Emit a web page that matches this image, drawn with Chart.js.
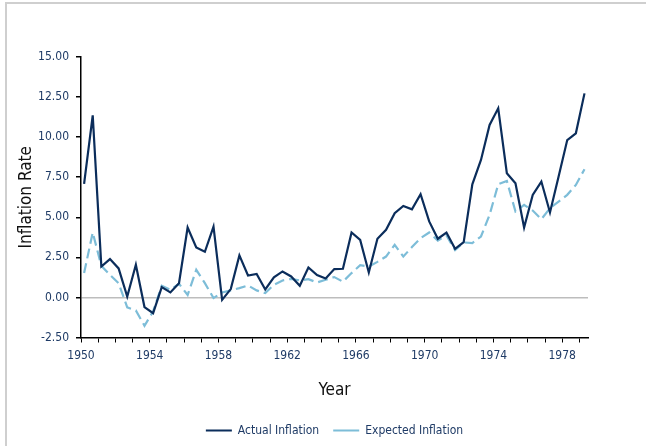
<!DOCTYPE html>
<html>
<head>
<meta charset="utf-8">
<script src="https://cdn.jsdelivr.net/npm/chart.js@4"></script>
<style>
  body { margin: 0; background: #fff; }
  #marco { position: absolute; left: 5px; top: 2px; width: 641px; height: 444px;
           border-top: 2px solid #cfcfcf; border-left: 2px solid #cfcfcf; }
  #miGrafico { position: absolute; left: 0; top: 0; }
</style>
</head>
<body>
<div id="marco"></div>
<canvas id="miGrafico" width="646" height="446"></canvas>
<script>
// Datos semestrales (1950 - 1979)
let inflacionReal = [7.08, 11.36, 1.93, 2.39, 1.81, 0.06, 2.04, -0.60, -0.98, 0.64, 0.31, 0.89, 4.36, 3.12, 2.85, 4.42, -0.15, 0.52, 2.62, 1.37, 1.47, 0.50,
    1.25, 1.62, 1.31, 0.73, 1.87, 1.39, 1.18, 1.77, 1.79, 4.05, 3.59, 1.56, 3.66, 4.22, 5.25, 5.71, 5.50, 6.44, 4.74, 3.66, 4.05, 3.03,
    3.45, 7.06, 8.58, 10.76, 11.80, 7.75, 7.12, 4.36, 6.40, 7.23, 5.30, 7.54, 9.82, 10.24, 12.73];
let inflacionEsperada = [1.52, 4.05, 1.97, 1.41, 0.89, -0.62, -0.81, -1.77, -0.87, 0.73, 0.48, 0.85, 0.15, 1.72, 0.89, -0.04, 0.31, 0.44, 0.58, 0.75, 0.44, 0.27,
    0.79, 1.06, 1.16, 1.06, 1.14, 0.93, 1.10, 1.27, 0.98, 1.52, 2.01, 1.93, 2.22, 2.55, 3.28, 2.55, 3.14, 3.70, 4.05, 3.55, 3.86, 2.95,
    3.43, 3.39, 3.80, 5.15, 7.06, 7.27, 5.36, 5.77, 5.42, 4.88, 5.57, 5.98, 6.40, 7.02, 8.00];
let nombresSeries = ['Actual Inflation', 'Expected Inflation'];
let etiquetasAnios = [1950, 1954, 1958, 1962, 1966, 1970, 1974, 1978];

// Posicion de cada observacion en el eje de anios (dos por anio)
let anios = inflacionReal.map((_, i) => 1950.18 + i * 0.502);

let fuente = "'DejaVu Sans Condensed', 'DejaVu Sans', sans-serif";
let azulTexto = '#1f3b66';

let ctx = document.getElementById('miGrafico').getContext('2d');

let datos = {
    datasets: [{
        label: nombresSeries[0],
        data: anios.map((x, i) => ({ x: x, y: inflacionReal[i] })),
        borderColor: '#0b2d5b',
        backgroundColor: '#0b2d5b',
        borderWidth: 2.2,
        pointRadius: 0,
        tension: 0
    }, {
        label: nombresSeries[1],
        data: anios.map((x, i) => ({ x: x, y: inflacionEsperada[i] })),
        borderColor: '#7dbdd8',
        backgroundColor: '#7dbdd8',
        borderWidth: 2.2,
        borderDash: [10, 5],
        pointRadius: 0,
        tension: 0
    }]
};

let config = {
    type: 'line',
    data: datos,
    options: {
        responsive: false,
        animation: false,
        layout: { padding: { top: 57, right: 58, left: 0, bottom: -0.5 } },
        plugins: {
            tooltip: { enabled: false },
            legend: {
                position: 'bottom',
                fullSize: false,
                labels: {
                    usePointStyle: true,
                    pointStyle: 'line',
                    pointStyleWidth: 26,
                    padding: 14,
                    color: azulTexto,
                    font: { family: fuente, size: 12 }
                }
            }
        },
        scales: {
            x: {
                type: 'linear',
                min: 1950,
                max: 1979.5,
                afterFit: (escala) => { escala.height = 73; },
                border: { display: true, color: '#000', width: 1.5 },
                grid: { color: 'rgba(0,0,0,0)', tickColor: '#000', tickLength: 5, drawTicks: true },
                ticks: {
                    stepSize: 1,
                    autoSkip: false,
                    maxRotation: 0,
                    includeBounds: false,
                    padding: 6,
                    color: azulTexto,
                    font: { family: fuente, size: 12 },
                    callback: (v) => etiquetasAnios.includes(v) ? String(v) : ''
                },
                title: {
                    display: true,
                    text: 'Year',
                    color: '#111',
                    font: { family: fuente, size: 17 },
                    padding: { top: 0, bottom: 10 }
                }
            },
            y: {
                min: -2.5,
                max: 15,
                afterFit: (escala) => { escala.width = 81; },
                border: { display: true, color: '#000', width: 1.5 },
                grid: {
                    color: (c) => c.tick && c.tick.value === 0 ? '#bdbdbd' : 'rgba(0,0,0,0)',
                    lineWidth: 1.5,
                    tickColor: '#000',
                    tickLength: 5
                },
                ticks: {
                    stepSize: 2.5,
                    padding: 7,
                    color: azulTexto,
                    font: { family: fuente, size: 12 },
                    callback: (v) => v.toFixed(2)
                },
                title: {
                    display: true,
                    text: 'Inflation Rate',
                    color: '#111',
                    font: { family: fuente, size: 17 },
                    padding: { top: 16, bottom: 0 }
                }
            }
        }
    }
};

new Chart(ctx, config);
</script>
</body>
</html>
